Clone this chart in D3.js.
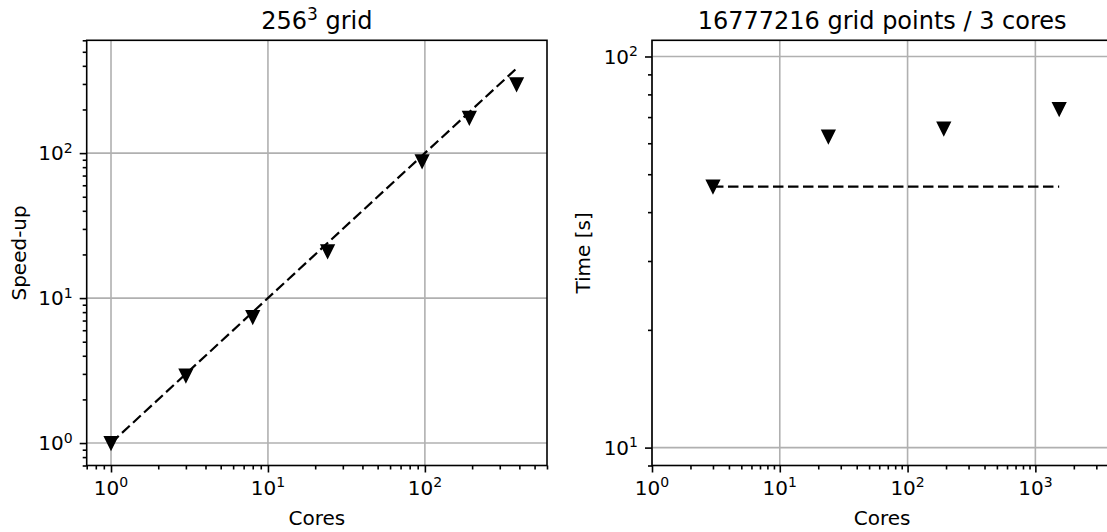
<!DOCTYPE html>
<html><head><meta charset="utf-8">
<script src="https://cdn.jsdelivr.net/npm/d3@7"></script>
<style>body{margin:0;background:#fff} text{font-family:"DejaVu Sans",sans-serif;fill:#000}</style>
</head><body><svg id="c" width="1107" height="532"></svg>
<script>
// ---- data ----
const strongCores = [1, 3, 8, 24, 96, 192, 384];
const strongSpeedup = [1.0, 2.92, 7.4, 21, 88, 175, 298];
const idealStrongCores = [1, 384];
const idealStrongSpeedup = [1, 384];
const weakCores = [3, 24, 192, 1536];
const weakTime = [46.5, 62.4, 65.4, 73.4];
const idealWeakCores = [3, 1536];
const idealWeakTime = [46.5, 46.5];
const leftTitle = ["256", "3", " grid"];
const rightTitle = "16777216 grid points / 3 cores";
const leftXMajor = [1, 10, 100];
const leftYMajor = [1, 10, 100];
const rightXMajor = [1, 10, 100, 1000];
const rightYMajor = [10, 100];
const xLabel = "Cores";
const leftYLabel = "Speed-up";
const rightYLabel = "Time [s]";

const svg = d3.select("#c");
const W = 460.3, H = 425.2, TOP = 40.3;

function minorTicks(domain) {
  const out = [];
  const lo = Math.floor(Math.log10(domain[0])), hi = Math.ceil(Math.log10(domain[1]));
  for (let k = lo; k <= hi; k++) for (let m = 2; m <= 9; m++) {
    const v = m * Math.pow(10, k);
    if (v >= domain[0] * 0.9999 && v <= domain[1] * 1.0001) out.push(v);
  }
  return out;
}

function powLabel(sel, v) {
  const e = Math.round(Math.log10(v));
  sel.append("tspan").text("10");
  sel.append("tspan").attr("dy", -7.5).attr("font-size", 14).text(String(e));
}

function panel(cfg) {
  const g = svg.append("g").attr("transform", `translate(${cfg.left},${TOP})`);
  const x = d3.scaleLog().domain(cfg.xDomain).range([0, W]);
  const y = d3.scaleLog().domain(cfg.yDomain).range([H, 0]);

  // grid
  g.append("g").selectAll("line").data(cfg.xMajor).join("line")
    .attr("x1", d => x(d)).attr("x2", d => x(d)).attr("y1", 0).attr("y2", H)
    .attr("stroke", "#b0b0b0").attr("stroke-width", 1.6);
  g.append("g").selectAll("line").data(cfg.yMajor).join("line")
    .attr("y1", d => y(d)).attr("y2", d => y(d)).attr("x1", 0).attr("x2", W)
    .attr("stroke", "#b0b0b0").attr("stroke-width", 1.6);

  // axes ticks
  const styleAxis = a => { a.select(".domain").remove(); a.selectAll("line").attr("stroke", "#000").attr("stroke-width", 1.6); };
  g.append("g").attr("transform", `translate(0,${H})`)
    .call(d3.axisBottom(x).tickValues(cfg.xMajor).tickSize(7).tickFormat("")).call(styleAxis);
  g.append("g").attr("transform", `translate(0,${H})`)
    .call(d3.axisBottom(x).tickValues(minorTicks(cfg.xDomain)).tickSize(4).tickFormat("")).call(styleAxis);
  g.append("g").call(d3.axisLeft(y).tickValues(cfg.yMajor).tickSize(7).tickFormat("")).call(styleAxis);
  g.append("g").call(d3.axisLeft(y).tickValues(minorTicks(cfg.yDomain)).tickSize(4).tickFormat("")).call(styleAxis);

  // tick labels
  cfg.xMajor.forEach(v => {
    const t = g.append("text").attr("x", x(v)).attr("y", H + 29.5)
      .attr("text-anchor", "middle").attr("font-size", 20);
    powLabel(t, v);
  });
  cfg.yMajor.forEach(v => {
    const t = g.append("text").attr("x", -14).attr("y", y(v) + 7.3)
      .attr("text-anchor", "end").attr("font-size", 20);
    powLabel(t, v);
  });

  // ideal dashed line
  const line = d3.line().x(d => x(d[0])).y(d => y(d[1]));
  g.append("path").datum(d3.zip(cfg.idealX, cfg.idealY)).attr("d", line)
    .attr("fill", "none").attr("stroke", "#000").attr("stroke-width", 2.2)
    .attr("stroke-dasharray", "10.5,4.5");

  // markers
  g.append("g").selectAll("path").data(d3.zip(cfg.px, cfg.py)).join("path")
    .attr("transform", d => `translate(${x(d[0])},${y(d[1])})`)
    .attr("d", "M-6,-6L6,-6L0,6Z").attr("fill", "#000")
    .attr("stroke", "#000").attr("stroke-width", 2).attr("stroke-linejoin", "miter");

  // spines
  g.append("rect").attr("x", 0).attr("y", 0).attr("width", W).attr("height", H)
    .attr("fill", "none").attr("stroke", "#000").attr("stroke-width", 1.6);

  // axis labels
  g.append("text").attr("x", W / 2).attr("y", H + 59.5).attr("text-anchor", "middle")
    .attr("font-size", 20).text(xLabel);
  g.append("text").attr("transform", `translate(${cfg.yLabelX},${H / 2}) rotate(-90)`)
    .attr("text-anchor", "middle").attr("font-size", 20).text(cfg.yLabel);

  // title
  const tt = g.append("text").attr("x", W / 2).attr("y", -11.3).attr("text-anchor", "middle")
    .attr("font-size", 24);
  cfg.title(tt);
}

panel({
  left: 86.7, xDomain: [0.7, 600], yDomain: [0.7, 600],
  xMajor: leftXMajor, yMajor: leftYMajor,
  px: strongCores, py: strongSpeedup, idealX: idealStrongCores, idealY: idealStrongSpeedup,
  yLabel: leftYLabel, yLabelX: -61,
  title: t => {
    t.append("tspan").text(leftTitle[0]);
    t.append("tspan").attr("dy", -9).attr("font-size", 17).text(leftTitle[1]);
    t.append("tspan").attr("dy", 9).text(leftTitle[2]);
  }
});
panel({
  left: 652, xDomain: [1, 4000], yDomain: [9, 110],
  xMajor: rightXMajor, yMajor: rightYMajor,
  px: weakCores, py: weakTime, idealX: idealWeakCores, idealY: idealWeakTime,
  yLabel: rightYLabel, yLabelX: -62,
  title: t => t.text(rightTitle)
});
</script></body></html>
